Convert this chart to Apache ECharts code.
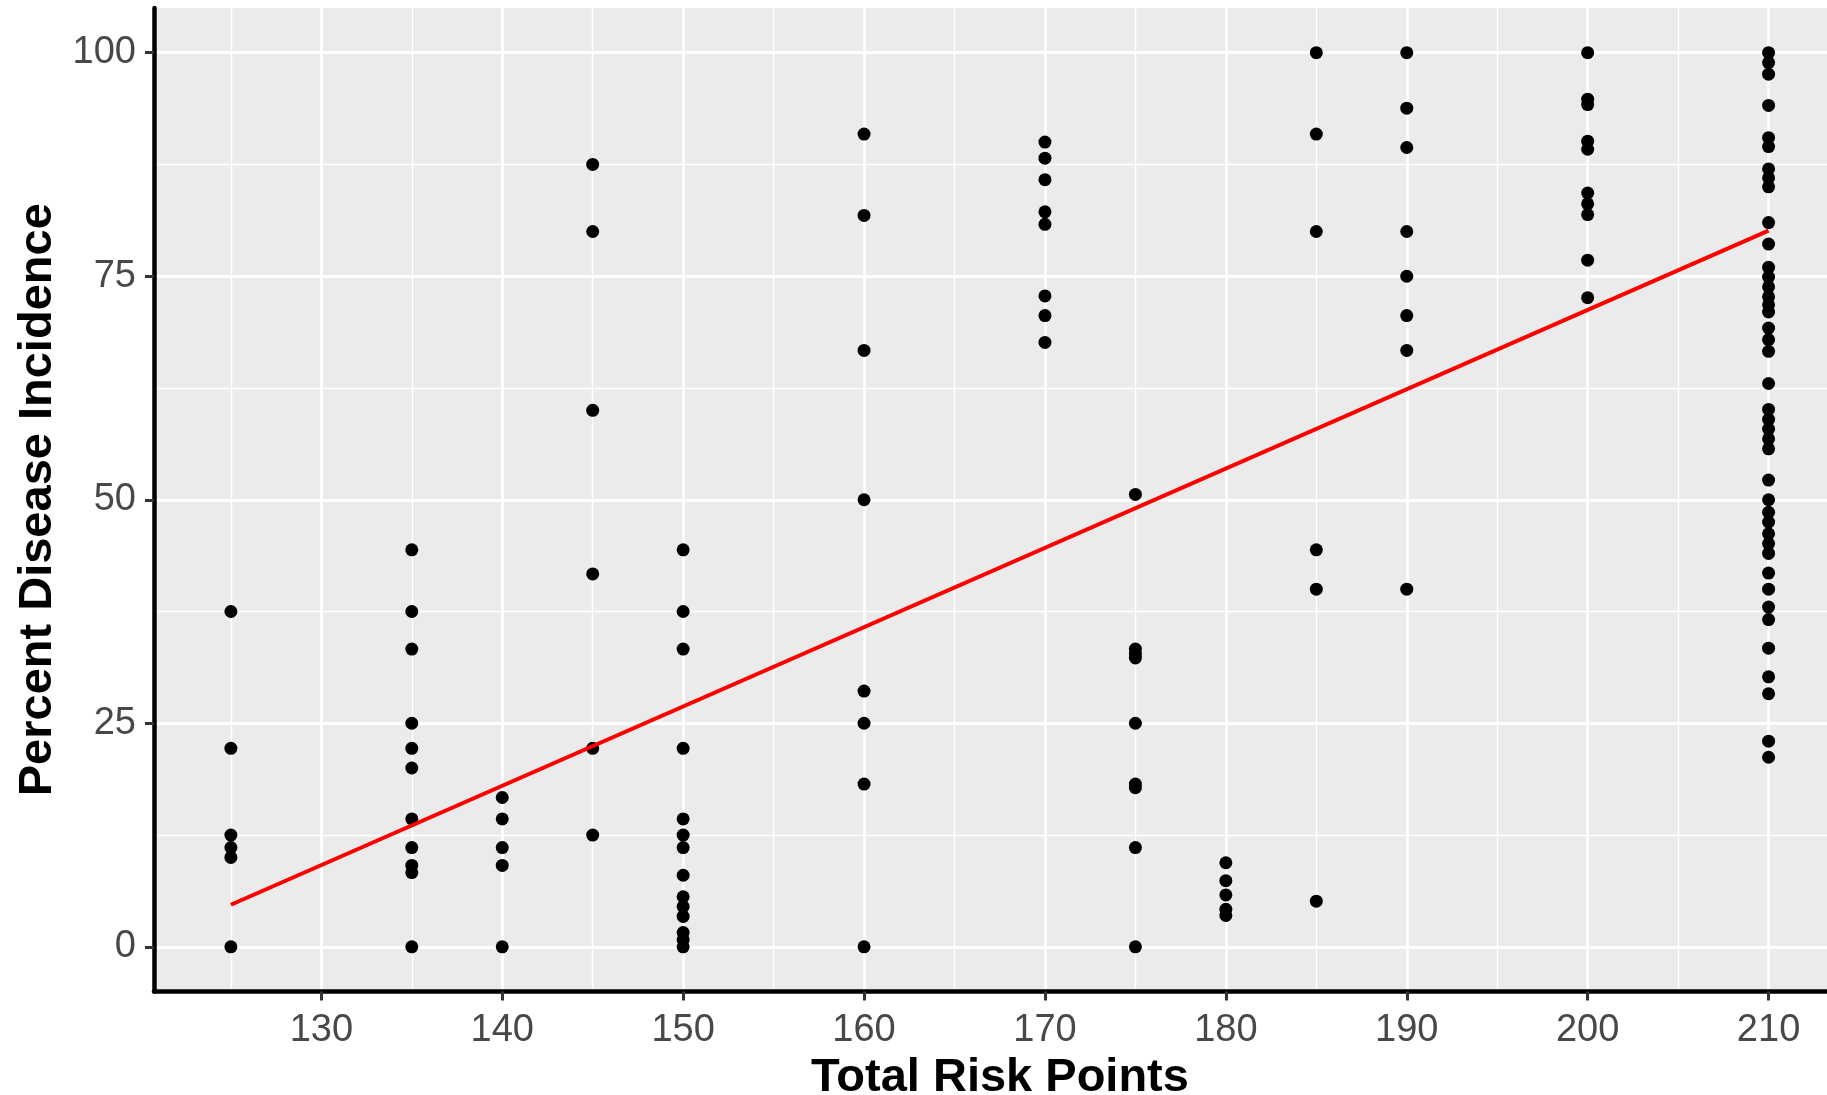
<!DOCTYPE html>
<html>
<head>
<meta charset="utf-8">
<script src="https://cdn.jsdelivr.net/npm/echarts@6/dist/echarts.min.js"></script>
<style>
  html, body { margin: 0; padding: 0; background: #ffffff; overflow: hidden; }
  #chart { width: 1827px; height: 1095px; }
</style>
</head>
<body>
<div id="chart"></div>
<script>
// ---- data ----
const riskLevels = [125, 135, 140, 145, 150, 160, 170, 175, 180, 185, 190, 200, 210];

const pdi125 = [37.5, 22.2, 12.5, 11.1, 10.0, 0];
const pdi135 = [44.4, 37.5, 33.3, 25.0, 22.2, 20.0, 14.3, 11.1, 9.1, 8.3, 0];
const pdi140 = [16.7, 14.3, 11.1, 9.1, 0];
const pdi145 = [87.5, 80.0, 60.0, 41.7, 22.2, 12.5];
const pdi150 = [44.4, 37.5, 33.3, 22.2, 14.3, 12.5, 11.1, 8.0, 5.6, 4.5, 3.4, 1.6, 0.8, 0];
const pdi160 = [90.9, 81.8, 66.7, 50.0, 28.6, 25.0, 18.2, 0];
const pdi170 = [90.0, 88.2, 85.8, 82.2, 80.8, 72.8, 70.6, 67.6];
const pdi175 = [50.6, 33.3, 32.8, 32.3, 25.0, 18.2, 17.8, 11.1, 0];
const pdi180 = [9.4, 7.4, 5.8, 4.2, 3.5];
const pdi185 = [100, 90.9, 80.0, 44.4, 40.0, 5.1];
const pdi190 = [100, 93.8, 89.4, 80.0, 75.0, 70.6, 66.7, 40.0];
const pdi200 = [100, 94.8, 94.2, 90.1, 89.2, 84.3, 83.1, 81.9, 76.8, 72.6];
const pdi210 = [100, 98.9, 97.6, 94.1, 90.5, 89.5, 87.0, 86.0, 85.0, 81.0, 78.6,
                76.0, 74.9, 73.8, 72.7, 71.8, 71.0, 69.2, 67.9, 66.6, 63.0,
                60.1, 59.0, 57.9, 56.8, 55.7, 52.2, 50.0, 48.6, 47.5, 46.2,
                45.1, 44.0, 41.8, 40.0, 38.0, 36.6, 33.4, 30.2, 28.3, 23.0, 21.2];

const pdiByLevel = [pdi125, pdi135, pdi140, pdi145, pdi150, pdi160, pdi170,
                    pdi175, pdi180, pdi185, pdi190, pdi200, pdi210];

// fitted regression line (endpoints)
const fitX = [125, 210];
const fitY = [4.7, 80.1];

// axis ticks
const xTicks = [130, 140, 150, 160, 170, 180, 190, 200, 210];
const xMinor = [125, 135, 145, 155, 165, 175, 185, 195, 205];
const yTicks = [0, 25, 50, 75, 100];
const yMinor = [12.5, 37.5, 62.5, 87.5];
const xRange = [120.75, 213.23];   // panel is cut at the right edge of the picture
const yRange = [-5, 105];

// ---- build ----
const points = [];
riskLevels.forEach((x, i) => pdiByLevel[i].forEach(y => points.push([x, y])));
const fitLine = fitX.map((x, i) => [x, fitY[i]]);

const FONT = '"Liberation Sans", Arial, sans-serif';
const majorStyle = { color: '#ffffff', width: 2.8, type: 'solid' };
const minorStyle = { color: '#ffffff', width: 1.4, type: 'solid' };
const gridLines = []
  .concat(xMinor.map(v => ({ xAxis: v, lineStyle: minorStyle })))
  .concat(yMinor.map(v => ({ yAxis: v, lineStyle: minorStyle })))
  .concat(xTicks.map(v => ({ xAxis: v, lineStyle: majorStyle })))
  .concat(yTicks.map(v => ({ yAxis: v, lineStyle: majorStyle })));

const chart = echarts.init(document.getElementById('chart'), null, { renderer: 'canvas' });
chart.setOption({
  animation: false,
  backgroundColor: '#ffffff',
  grid: {
    left: 154, right: 0, top: 8, bottom: 103.5,
    show: true, backgroundColor: '#EBEBEB', borderWidth: 0,
    containLabel: false, outerBoundsMode: 'none'
  },
  xAxis: {
    type: 'value', min: xRange[0], max: xRange[1], z: 5,
    name: 'Total Risk Points', nameLocation: 'middle', nameGap: 58.5,
    nameTextStyle: { fontFamily: FONT, fontSize: 47, fontWeight: 'bold', color: '#000000',
      lineHeight: 47, padding: [0, 0, 0, 19] },
    axisLine: { show: true, onZero: false, lineStyle: { color: '#000000', width: 4.5 } },
    axisTick: { show: true, customValues: xTicks, length: 9, lineStyle: { color: '#333333', width: 3 } },
    axisLabel: { show: true, customValues: xTicks, margin: 20.5, fontFamily: FONT, fontSize: 38, color: '#484848', lineHeight: 38 },
    splitLine: { show: false }, minorSplitLine: { show: false }
  },
  yAxis: {
    type: 'value', min: yRange[0], max: yRange[1], z: 5,
    name: 'Percent Disease Incidence', nameLocation: 'middle', nameGap: 83, nameRotate: 90,
    nameTextStyle: { fontFamily: FONT, fontSize: 47, fontWeight: 'bold', color: '#000000', lineHeight: 47 },
    axisLine: { show: true, onZero: false, lineStyle: { color: '#000000', width: 4.5 } },
    axisTick: { show: true, customValues: yTicks, length: 9, lineStyle: { color: '#333333', width: 3 } },
    axisLabel: { show: true, customValues: yTicks, margin: 18, fontFamily: FONT, fontSize: 38, color: '#484848' },
    splitLine: { show: false }, minorSplitLine: { show: false }
  },
  series: [
    {
      name: 'grid', type: 'line', data: [], z: 1, silent: true,
      markLine: { z: 1, silent: true, symbol: 'none', animation: false,
        label: { show: false }, emphasis: { disabled: true }, data: gridLines }
    },
    {
      name: 'points', type: 'scatter', data: points, z: 3,
      symbol: 'circle', symbolSize: 13,
      itemStyle: { color: '#000000', borderWidth: 0, opacity: 1 }, silent: true
    },
    {
      name: 'fit', type: 'line', data: fitLine, z: 4,
      showSymbol: false, symbol: 'none', silent: true,
      lineStyle: { color: '#FF0000', width: 4 }
    }
  ]
});
</script>
</body>
</html>
